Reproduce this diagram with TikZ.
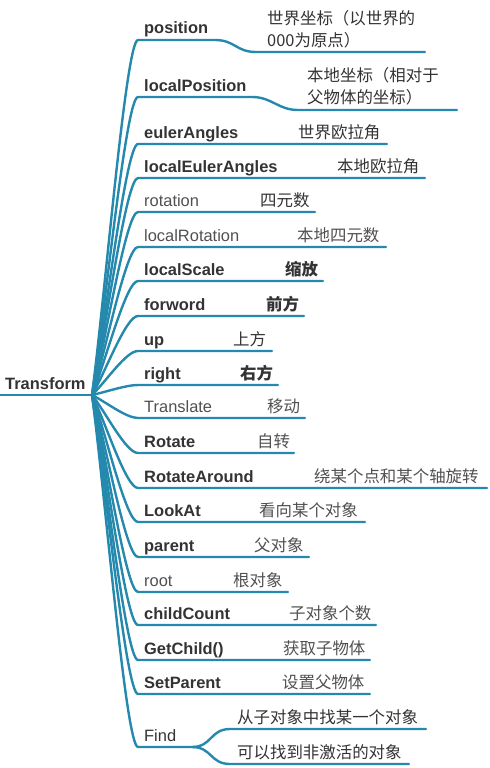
\documentclass[tikz,border=0pt]{standalone}
\usepackage{fontspec}
\setmainfont{Liberation Sans}
\newfontfamily\cjk{Noto Sans CJK SC}
\usetikzlibrary{calc}
\definecolor{twig}{RGB}{36,137,172}
\definecolor{ink}{HTML}{333333}
\definecolor{inklt}{HTML}{505050}

\begin{document}
\begin{tikzpicture}[x=1bp, y=-1bp,
    limb/.style={draw=twig, line width=2.4bp, line cap=round,
      to path={.. controls ($(\tikztostart)!0.3!(\tikztotarget)$) and +(-12,0) .. (\tikztotarget)}},
    swerve/.style={to path={.. controls +(20,0) and +(-20,0) .. (\tikztotarget)}},
    lbl/.style={anchor=base west, inner sep=0, text=ink, font=\fontsize{16.5}{22}\selectfont\bfseries},
    lblmd/.style={lbl, font=\fontsize{16.5}{22}\selectfont},
    lbllt/.style={lblmd, text=inklt},
    gloss/.style={anchor=base west, inner sep=0, text=ink, font=\fontsize{16.5}{22}\selectfont\cjk},
    glossbf/.style={gloss, font=\fontsize{16.5}{22}\selectfont\cjk\bfseries},
    glosslt/.style={gloss, text=inklt}]
    \useasboundingbox (0,0) rectangle (490,768);

    % root
    \node[lbl] (root) at (5,389) {Transform};
    \coordinate (stem) at (0,395);
    \coordinate (hub) at (92,395);
    \draw[twig, line width=2.8bp] (stem) -- (hub);

    % two-line notes
    \node[lbl] (k1) at (144,34) {position};
    \node[gloss, anchor=west, align=left] (n1) at (267,29) {世界坐标（以世界的\\000为原点）};
    \coordinate (b1) at (138,40); \coordinate (c1) at (215,40);
    \coordinate (s1) at (256,52); \coordinate (e1) at (425,52);
    \draw[limb] (hub) to (b1) -- (c1) to[swerve] (s1) -- (e1);

    \node[lbl] (k2) at (144,91) {localPosition};
    \node[gloss, anchor=west, align=left] (n2) at (307,86) {本地坐标（相对于\\父物体的坐标）};
    \coordinate (b2) at (138,97); \coordinate (c2) at (252,97);
    \coordinate (s2) at (298,110); \coordinate (e2) at (457,110);
    \draw[limb] (hub) to (b2) -- (c2) to[swerve] (s2) -- (e2);

    % one-line notes
    \node[lbl] (k3) at (144,138) {eulerAngles};       \node[gloss] (n3) at (298,138) {世界欧拉角};
    \coordinate (b3) at (138,144); \coordinate (e3) at (387,144);
    \node[lbl] (k4) at (144,172) {localEulerAngles};  \node[gloss] (n4) at (337,172) {本地欧拉角};
    \coordinate (b4) at (138,178); \coordinate (e4) at (425,178);
    \node[lbllt] (k5) at (144,206) {rotation};        \node[gloss] (n5) at (260,206) {四元数};
    \coordinate (b5) at (138,212); \coordinate (e5) at (315,212);
    \node[lbllt] (k6) at (144,241) {localRotation};   \node[glosslt] (n6) at (297,241) {本地四元数};
    \coordinate (b6) at (138,247); \coordinate (e6) at (386,247);
    \node[lbl] (k7) at (144,275) {localScale};        \node[glossbf] (n7) at (285,275) {缩放};
    \coordinate (b7) at (138,281); \coordinate (e7) at (323,281);
    \node[lbl] (k8) at (144,310) {forword};           \node[glossbf] (n8) at (266,310) {前方};
    \coordinate (b8) at (138,316); \coordinate (e8) at (304,316);
    \node[lbl] (k9) at (144,345) {up};                \node[gloss] (n9) at (233,345) {上方};
    \coordinate (b9) at (138,351); \coordinate (e9) at (272,351);
    \node[lbl] (k10) at (144,379) {right};            \node[glossbf] (n10) at (240,379) {右方};
    \coordinate (b10) at (138,385); \coordinate (e10) at (278,385);
    \node[lbllt] (k11) at (144,412) {Translate};      \node[glosslt] (n11) at (267,412) {移动};
    \coordinate (b11) at (138,418); \coordinate (e11) at (305,418);
    \node[lbl] (k12) at (144,447) {Rotate};           \node[glosslt] (n12) at (257,447) {自转};
    \coordinate (b12) at (138,453); \coordinate (e12) at (294,453);
    \node[lbl] (k13) at (144,482) {RotateAround};     \node[glosslt] (n13) at (314,482) {绕某个点和某个轴旋转};
    \coordinate (b13) at (138,488); \coordinate (e13) at (487,488);
    \node[lbl] (k14) at (144,516) {LookAt};           \node[glosslt] (n14) at (259,516) {看向某个对象};
    \coordinate (b14) at (138,522); \coordinate (e14) at (365,522);
    \node[lbl] (k15) at (144,551) {parent};           \node[glosslt] (n15) at (254,551) {父对象};
    \coordinate (b15) at (138,557); \coordinate (e15) at (309,557);
    \node[lbllt] (k16) at (144,586) {root};           \node[glosslt] (n16) at (233,586) {根对象};
    \coordinate (b16) at (138,592); \coordinate (e16) at (288,592);
    \node[lbl] (k17) at (144,619) {childCount};       \node[glosslt] (n17) at (289,619) {子对象个数};
    \coordinate (b17) at (138,625); \coordinate (e17) at (376,625);
    \node[lbl] (k18) at (144,654) {GetChild()};       \node[glosslt] (n18) at (283,654) {获取子物体};
    \coordinate (b18) at (138,660); \coordinate (e18) at (370,660);
    \node[lbl] (k19) at (144,688) {SetParent};        \node[glosslt] (n19) at (282,688) {设置父物体};
    \coordinate (b19) at (138,694); \coordinate (e19) at (370,694);
    \foreach \i in {3,...,19}
        \draw[limb] (hub) to (b\i) -- (e\i);

    % Find splits in two
    \node[lblmd] (k20) at (144,741) {Find};
    \node[gloss] (n20a) at (237,723) {从子对象中找某一个对象};
    \node[gloss] (n20b) at (237,758) {可以找到非激活的对象};
    \coordinate (b20) at (138,747); \coordinate (c20) at (192,747);
    \coordinate (s20a) at (230,729); \coordinate (e20a) at (426,729);
    \coordinate (s20b) at (230,764); \coordinate (e20b) at (409,764);
    \draw[limb] (hub) to (b20) -- (c20) to[swerve] (s20a) -- (e20a);
    \draw[limb] (c20) to[swerve] (s20b) -- (e20b);
\end{tikzpicture}
\end{document}
